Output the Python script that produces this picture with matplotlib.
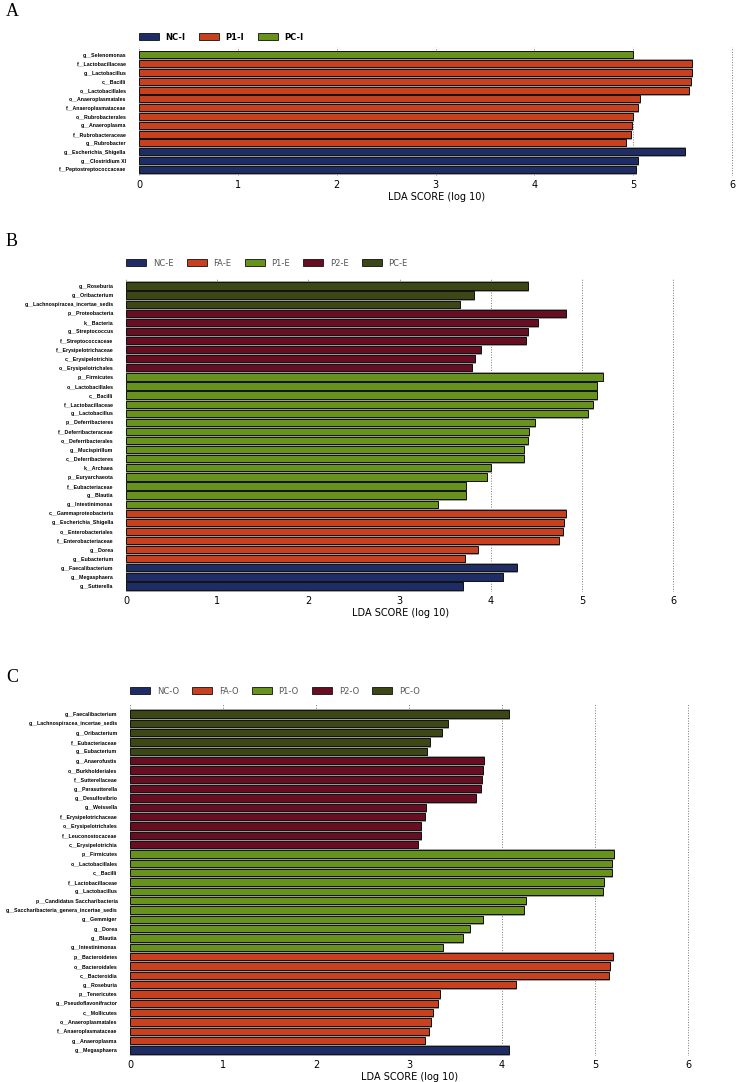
import matplotlib
matplotlib.use("Agg")
import matplotlib.pyplot as plt
from matplotlib.patches import Patch

# colours per group type
NC_COL = '#1f2d66'
FA_COL = '#c8401d'
P1_COL = '#67921c'
P2_COL = '#690d22'
PC_COL = '#3b4714'

# ---- panel A ----
a_groups = ['NC-I', 'P1-I', 'PC-I']
a_colors = [NC_COL, FA_COL, P1_COL]
a_labels = ['g__Selenomonas', 'f__Lactobacillaceae', 'g__Lactobacillus', 'c__Bacilli',
            'o__Lactobacillales', 'o__Anaeroplasmatales', 'f__Anaeroplasmataceae',
            'o__Rubrobacterales', 'g__Anaeroplasma', 'f__Rubrobacteraceae', 'g__Rubrobacter',
            'g__Escherichia_Shigella', 'g__Clostridium XI', 'f__Peptostreptococcaceae']
a_values = [5.00, 5.60, 5.59, 5.58, 5.56, 5.07, 5.05, 5.00, 4.99, 4.98, 4.93, 5.52, 5.05, 5.03]
a_class = ['PC-I'] + ['P1-I'] * 10 + ['NC-I'] * 3

# ---- panel B ----
b_groups = ['NC-E', 'FA-E', 'P1-E', 'P2-E', 'PC-E']
b_colors = [NC_COL, FA_COL, P1_COL, P2_COL, PC_COL]
b_labels = ['g__Roseburia', 'g__Oribacterium', 'g__Lachnospiracea_incertae_sedis',
            'p__Proteobacteria', 'k__Bacteria', 'g__Streptococcus', 'f__Streptococcaceae',
            'f__Erysipelotrichaceae', 'c__Erysipelotrichia', 'o__Erysipelotrichales',
            'p__Firmicutes', 'o__Lactobacillales', 'c__Bacilli', 'f__Lactobacillaceae',
            'g__Lactobacillus', 'p__Deferribacteres', 'f__Deferribacteraceae',
            'o__Deferribacterales', 'g__Mucispirillum', 'c__Deferribacteres', 'k__Archaea',
            'p__Euryarchaeota', 'f__Eubacteriaceae', 'g__Blautia', 'g__Intestinimonas',
            'c__Gammaproteobacteria', 'g__Escherichia_Shigella', 'o__Enterobacteriales',
            'f__Enterobacteriaceae', 'g__Dorea', 'g__Eubacterium',
            'g__Faecalibacterium', 'g__Megasphaera', 'g__Sutterella']
b_values = [4.41, 3.82, 3.66,
            4.83, 4.52, 4.41, 4.39, 3.89, 3.83, 3.79,
            5.23, 5.17, 5.16, 5.12, 5.07, 4.49, 4.42, 4.41, 4.36, 4.36, 4.00, 3.96, 3.73, 3.73, 3.42,
            4.82, 4.80, 4.79, 4.75, 3.86, 3.72,
            4.29, 4.13, 3.69]
b_class = ['PC-E'] * 3 + ['P2-E'] * 7 + ['P1-E'] * 15 + ['FA-E'] * 6 + ['NC-E'] * 3

# ---- panel C ----
c_groups = ['NC-O', 'FA-O', 'P1-O', 'P2-O', 'PC-O']
c_colors = [NC_COL, FA_COL, P1_COL, P2_COL, PC_COL]
c_labels = ['g__Faecalibacterium', 'g__Lachnospiracea_incertae_sedis', 'g__Oribacterium',
            'f__Eubacteriaceae', 'g__Eubacterium',
            'g__Anaerofustis', 'o__Burkholderiales', 'f__Sutterellaceae', 'g__Parasutterella',
            'g__Desulfovibrio', 'g__Weissella', 'f__Erysipelotrichaceae', 'o__Erysipelotrichales',
            'f__Leuconostocaceae', 'c__Erysipelotrichia',
            'p__Firmicutes', 'o__Lactobacillales', 'c__Bacilli', 'f__Lactobacillaceae',
            'g__Lactobacillus', 'p__Candidatus Saccharibacteria',
            'g__Saccharibacteria_genera_incertae_sedis', 'g__Gemmiger', 'g__Dorea', 'g__Blautia',
            'g__Intestinimonas',
            'p__Bacteroidetes', 'o__Bacteroidales', 'c__Bacteroidia', 'g__Roseburia',
            'p__Tenericutes', 'g__Pseudoflavonifractor', 'c__Mollicutes', 'o__Anaeroplasmatales',
            'f__Anaeroplasmataceae', 'g__Anaeroplasma',
            'g__Megasphaera']
c_values = [4.07, 3.42, 3.35, 3.22, 3.19,
            3.81, 3.80, 3.78, 3.77, 3.72, 3.18, 3.17, 3.13, 3.13, 3.10,
            5.20, 5.18, 5.18, 5.10, 5.09, 4.26, 4.24, 3.79, 3.65, 3.58, 3.36,
            5.19, 5.16, 5.15, 4.15, 3.33, 3.31, 3.26, 3.24, 3.21, 3.17,
            4.07]
c_class = ['PC-O'] * 5 + ['P2-O'] * 10 + ['P1-O'] * 11 + ['FA-O'] * 10 + ['NC-O']

W, H = 738, 1082
fig = plt.figure(figsize=(W / 100, H / 100), dpi=100)


def draw_panel(rect, labels, values, classes, groups, colors, letter, letter_y,
               ylim, legend_y, bold_legend):
    left, top, right, bottom = rect
    ax = fig.add_axes([left / W, 1 - bottom / H, (right - left) / W, (bottom - top) / H])
    cmap = dict(zip(groups, colors))
    ypos = list(range(len(labels)))
    # grey shadow behind each bar
    ax.barh(ypos, values, height=1.0, color='#9a9a9a', edgecolor='#9a9a9a', linewidth=0.6, zorder=2)
    ax.barh(ypos, values, height=0.8, color=[cmap[c] for c in classes],
            edgecolor='#111111', linewidth=0.7, zorder=3)
    ax.set_yticks(ypos)
    ax.set_yticklabels(labels, fontsize=3.8, fontweight='bold', family='Liberation Sans')
    ax.set_ylim(*ylim)
    ax.set_xlim(0, 6.02)
    ax.set_xticks(range(7))
    ax.tick_params(axis='x', length=0, labelsize=7, pad=3)
    ax.tick_params(axis='y', length=0, pad=9)
    for s in ax.spines.values():
        s.set_visible(False)
    ax.grid(axis='x', linestyle=':', color='#777777', linewidth=0.7, zorder=0)
    ax.set_axisbelow(True)
    ax.set_xlabel('LDA SCORE (log 10)', fontsize=7, labelpad=1)
    handles = [Patch(facecolor=c, edgecolor='#111111', linewidth=0.6) for c in colors]
    leg = ax.legend(handles, groups, loc='center left', ncol=len(groups),
                    bbox_to_anchor=(0.0, 1 + (top - legend_y) / (bottom - top)),
                    frameon=False, fontsize=6, handlelength=2.4, handleheight=0.9,
                    columnspacing=1.6, handletextpad=0.8, borderaxespad=0, borderpad=0)
    for t in leg.get_texts():
        if bold_legend:
            t.set_fontweight('bold')
        else:
            t.set_color('#555555')
    fig.text(6 / W, 1 - letter_y / H, letter, fontsize=13, family='Liberation Serif',
             va='center', ha='left')
    return ax


draw_panel((139, 47, 734, 176), a_labels, a_values, a_class, a_groups, a_colors,
           'A', 12, (13.76, -0.9), 37, True)
draw_panel((126, 278, 675, 592), b_labels, b_values, b_class, b_groups, b_colors,
           'B', 242, (33.66, -0.88), 263, False)
draw_panel((130, 704, 690, 1056), c_labels, c_values, c_class, c_groups, c_colors,
           'C', 678, (36.64, -1.07), 691, False)

fig.savefig('out.png', dpi=100)
